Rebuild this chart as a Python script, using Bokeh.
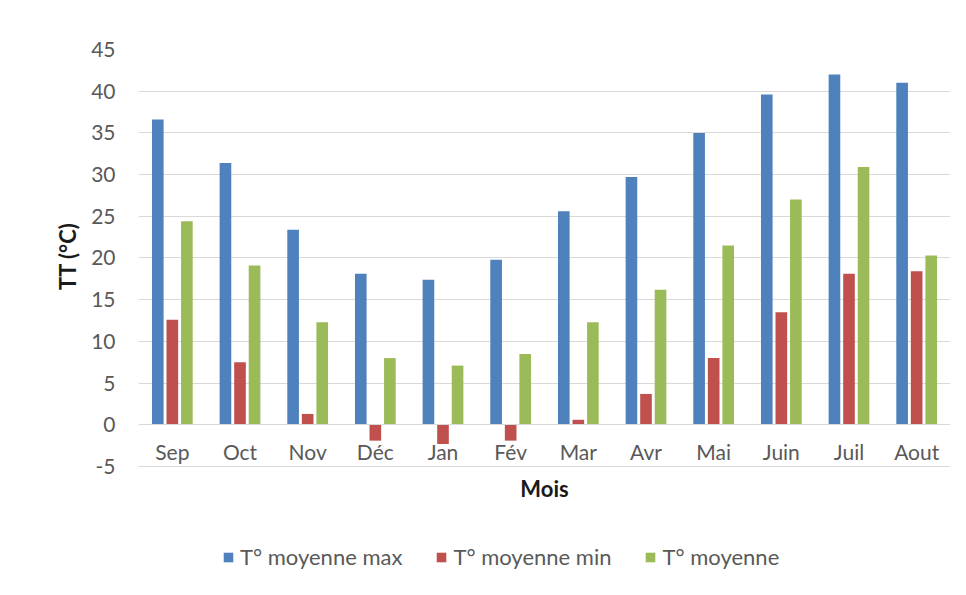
from bokeh.plotting import figure
from bokeh.models import (ColumnDataSource, FactorRange, Range1d, Legend, LegendItem,
                          Title, FixedTicker, PrintfTickFormatter)
from bokeh.transform import dodge
from bokeh.embed import file_html
from bokeh.resources import INLINE

months = ["Sep", "Oct", "Nov", "Déc", "Jan", "Fév", "Mar", "Avr", "Mai", "Juin", "Juil", "Aout"]
t_max = [36.6, 31.4, 23.4, 18.1, 17.4, 19.8, 25.6, 29.7, 35.0, 39.6, 42.0, 41.0]
t_min = [12.6, 7.5, 1.3, -1.9, -2.3, -1.9, 0.6, 3.7, 8.0, 13.5, 18.1, 18.4]
t_moy = [24.4, 19.1, 12.3, 8.0, 7.1, 8.5, 12.3, 16.2, 21.5, 27.0, 30.9, 20.3]
y_ticks = [-5, 0, 5, 10, 15, 20, 25, 30, 35, 40, 45]
series_names = ["T° moyenne max", "T° moyenne min", "T° moyenne"]
colors = ["#4F81BD", "#C0504D", "#9BBB59"]

FONT = "Lato"
GRAY = "#595959"
DARK = "#1a1a1a"

src = ColumnDataSource(data=dict(months=months, t_max=t_max, t_min=t_min, t_moy=t_moy))

# frame spans from the top gridline down to the bottom of the canvas so that the
# legend (below the -5 gridline) can live inside it without being clipped
p = figure(width=950, height=579, output_backend="svg", toolbar_location=None,
           x_range=FactorRange(*months), y_range=Range1d(-18.55, 45),
           min_border_left=138, min_border_right=0, min_border_top=49, min_border_bottom=0)
p.background_fill_color = "white"
p.border_fill_color = "white"
p.outline_line_color = None

bw = 0.172
r1 = p.vbar(x=dodge("months", -0.215, range=p.x_range), top="t_max", bottom=0, width=bw,
            source=src, fill_color=colors[0], line_color=None)
r2 = p.vbar(x=dodge("months", 0.0, range=p.x_range), top="t_min", bottom=0, width=bw,
            source=src, fill_color=colors[1], line_color=None)
r3 = p.vbar(x=dodge("months", 0.215, range=p.x_range), top="t_moy", bottom=0, width=bw,
            source=src, fill_color=colors[2], line_color=None)

# grids
p.xgrid.grid_line_color = None
p.ygrid.grid_line_color = "#d9d9d9"
p.ygrid.grid_line_width = 1
p.ygrid.ticker = FixedTicker(ticks=y_ticks)

# y axis
p.yaxis.ticker = FixedTicker(ticks=y_ticks)
p.yaxis.formatter = PrintfTickFormatter(format="%d")
p.yaxis.axis_line_color = None
p.yaxis.major_tick_line_color = None
p.yaxis.minor_tick_line_color = None
p.yaxis.major_tick_in = 0
p.yaxis.major_tick_out = 0
p.yaxis.major_label_standoff = 23
p.yaxis.major_label_text_font = FONT
p.yaxis.major_label_text_font_size = "21px"
p.yaxis.major_label_text_color = GRAY

p.add_layout(Title(text="TT (°C)", align="right", offset=173, standoff=16,
                   text_font=FONT, text_font_size="22px", text_font_style="bold",
                   text_color=DARK), "left")

# x axis at y = 0
p.xaxis.fixed_location = 0
p.xaxis.axis_line_color = "#d9d9d9"
p.xaxis.major_tick_line_color = None
p.xaxis.minor_tick_line_color = None
p.xaxis.major_tick_in = 0
p.xaxis.major_tick_out = 0
p.xaxis.major_label_standoff = 14
p.xaxis.major_label_text_font = FONT
p.xaxis.major_label_text_font_size = "21px"
p.xaxis.major_label_text_color = GRAY
p.xaxis.axis_label = "Mois"
p.xaxis.axis_label_standoff = 8
p.xaxis.axis_label_text_font = FONT
p.xaxis.axis_label_text_font_size = "22px"
p.xaxis.axis_label_text_font_style = "bold"
p.xaxis.axis_label_text_color = DARK

legend = Legend(items=[LegendItem(label=series_names[0], renderers=[r1]),
                       LegendItem(label=series_names[1], renderers=[r2]),
                       LegendItem(label=series_names[2], renderers=[r3])],
                orientation="horizontal", location=(84, 9),
                glyph_width=12, glyph_height=12, label_standoff=6, spacing=33,
                padding=0, margin=0, border_line_color=None, background_fill_alpha=0,
                label_text_font=FONT, label_text_font_size="22px", label_text_color=GRAY)
p.add_layout(legend, "center")

open("out.html", "w").write(file_html(p, INLINE))
